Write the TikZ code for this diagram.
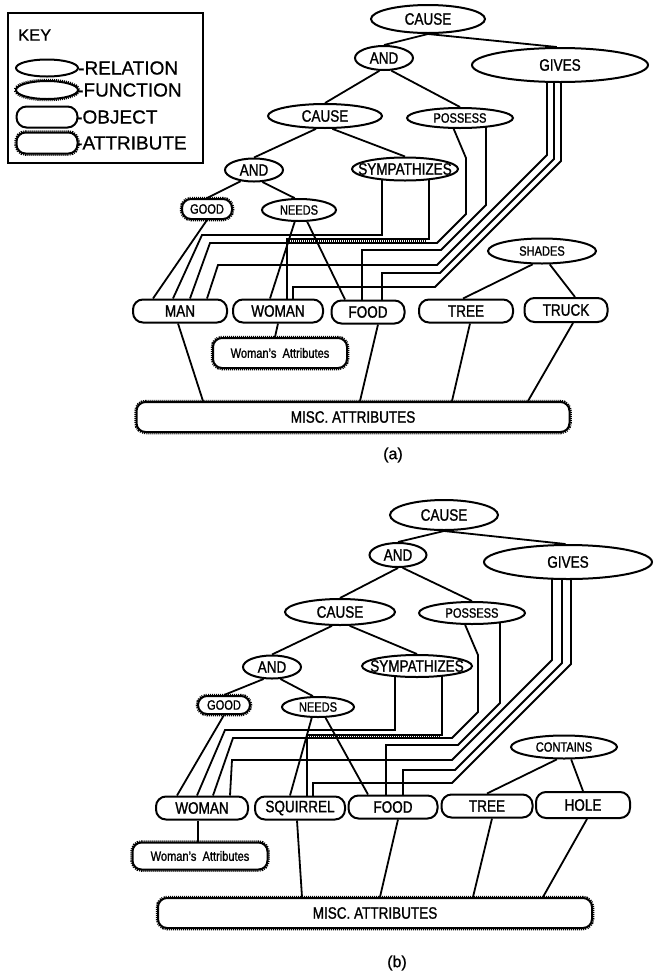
\documentclass[tikz,border=0pt]{standalone}
\usepackage{fontspec}
\setmainfont{Liberation Sans}[FakeStretch=0.82,FakeBold=1.2]
\newfontfamily\keyfont{Liberation Sans}[FakeBold=0.8]
\usetikzlibrary{shapes.geometric}
\pgfdeclarelayer{bg}
\pgfsetlayers{bg,main}
\newcommand\nsz{\fontsize{16.5}{18}\selectfont}
\newcommand\ssz{\fontsize{13.5}{15}\selectfont}
\newcommand\ztxt[1]{\makebox[0pt]{#1}}
\begin{document}
\begin{tikzpicture}[x=1pt,y=-1pt,line width=2pt,
  rel/.style 2 args={ellipse,draw,line width=2pt,fill=white,inner sep=0pt,minimum width=#1,minimum height=#2,font=\nsz},
  func/.style 2 args={ellipse,draw,fill=white,inner sep=0pt,minimum width=#1,minimum height=#2,line width=2pt,preaction={draw,line width=4.5pt,dash pattern=on 1pt off 1pt}},
  obj/.style 2 args={rectangle,rounded corners=10pt,draw,line width=2pt,fill=white,inner sep=0pt,minimum width=#1,minimum height=#2,font=\nsz},
  attr/.style 2 args={rectangle,rounded corners=9pt,draw,fill=white,inner sep=0pt,minimum width=#1,minimum height=#2,font=\nsz,line width=2pt,preaction={draw,line width=4.5pt,dash pattern=on 1pt off 1pt}},
  small/.style={font=\ssz},
  keytext/.style={anchor=west,inner sep=0pt,font=\keyfont\fontsize{19}{20}\selectfont},
  conn/.style={line width=1.8pt},
  hatch/.style={line width=3pt,dash pattern=on 1pt off 1pt},
  caption/.style={inner sep=0pt,font=\keyfont\fontsize{16}{17}\selectfont}
]
\useasboundingbox (0,0) rectangle (667,978);
\begin{pgfonlayer}{bg}
\fill[white] (0,0) rectangle (667,978);
\end{pgfonlayer}

% ---------------- KEY
\draw[line width=1.8pt] (8,13) rectangle (203,163);
\node[anchor=west,inner sep=0pt,font=\keyfont\fontsize{16.5}{17}\selectfont] (key) at (18,35) {KEY};
\node[rel={62}{17}] (krel) at (47,68) {};
\node[func={62}{18}] (kfunc) at (47,90) {};
\node[obj={61}{21}] (kobj) at (47,117) {};
\node[attr={61}{21}] (kattr) at (47,143) {};
\node[keytext] (trel) at (78,68) {-RELATION};
\node[keytext] (tfunc) at (77,90) {-FUNCTION};
\node[keytext] (tobj) at (76,117) {-OBJECT};
\node[keytext] (tattr) at (76,143) {-ATTRIBUTE};

% ---------------- (a)
\node[rel={114}{28}] (acause) at (428,19) {\ztxt{CAUSE}};
\node[rel={58}{24}] (aand) at (384,58) {\ztxt{AND}};
\node[rel={176}{34}] (agives) at (560,65) {\ztxt{GIVES}};
\node[rel={114}{24}] (acause2) at (325,116) {\ztxt{CAUSE}};
\node[rel={106}{20},small] (apossess) at (460,118) {\ztxt{POSSESS}};
\node[rel={58}{23}] (aand2) at (254,170) {\ztxt{AND}};
\node[rel={106}{23}] (asymp) at (405,169) {\ztxt{SYMPATHIZES}};
\node[attr={50}{20},small] (agood) at (207,209) {\ztxt{GOOD}};
\node[rel={74}{22},small] (aneeds) at (299,210) {\ztxt{NEEDS}};
\node[rel={108}{25},small] (ashades) at (542,251) {\ztxt{SHADES}};
\node[obj={94}{23}] (aman) at (180,311) {\ztxt{MAN}};
\node[obj={90}{23}] (awoman) at (278,311) {\ztxt{WOMAN}};
\node[obj={73}{23}] (afood) at (368,312) {\ztxt{FOOD}};
\node[obj={94}{23}] (atree) at (466,311) {\ztxt{TREE}};
\node[obj={83}{24}] (atruck) at (566,310) {\ztxt{TRUCK}};
\node[attr={134}{30},small] (awattr) at (280,353) {\ztxt{Woman's\ \ Attributes}};
\node[attr={433}{30}] (amisc) at (353,417) {\ztxt{MISC. ATTRIBUTES}};
\node[caption] (capa) at (393,455) {(a)};

% ---------------- (b)
\node[rel={108}{30}] (bcause) at (444,515) {\ztxt{CAUSE}};
\node[rel={57}{24}] (band) at (398,555) {\ztxt{AND}};
\node[rel={168}{34}] (bgives) at (568,562) {\ztxt{GIVES}};
\node[rel={110}{26}] (bcause2) at (340,612) {\ztxt{CAUSE}};
\node[rel={106}{22},small] (bpossess) at (472,613) {\ztxt{POSSESS}};
\node[rel={58}{23}] (band2) at (272,667) {\ztxt{AND}};
\node[rel={110}{22}] (bsymp) at (417,666) {\ztxt{SYMPATHIZES}};
\node[attr={52}{18},small] (bgood) at (224,705) {\ztxt{GOOD}};
\node[rel={72}{20},small] (bneeds) at (318,707) {\ztxt{NEEDS}};
\node[rel={106}{23},small] (bcontains) at (564,747) {\ztxt{CONTAINS}};
\node[obj={92}{23}] (bwoman) at (202,808) {\ztxt{WOMAN}};
\node[obj={90}{23}] (bsquirrel) at (300,808) {\ztxt{SQUIRREL}};
\node[obj={89}{23}] (bfood) at (393,807) {\ztxt{FOOD}};
\node[obj={91}{23}] (btree) at (487,806) {\ztxt{TREE}};
\node[obj={94}{26}] (bhole) at (583,805) {\ztxt{HOLE}};
\node[attr={135}{27},small] (bwattr) at (200,856) {\ztxt{Woman's\ \ Attributes}};
\node[attr={434}{30}] (bmisc) at (375,913) {\ztxt{MISC. ATTRIBUTES}};
\node[caption] (capb) at (397,963) {(b)};

\begin{pgfonlayer}{bg}
% (a) tree
\draw[conn] (acause.south) -- (aand.north);
\draw[conn] (acause.south) -- (agives.100);
\draw[conn] (aand.250) -- (acause2.north);
\draw[conn] (aand.300) -- (apossess.north);
\draw[conn] (acause2.235) -- (aand2.north);
\draw[conn] (acause2.300) -- (asymp.north);
\draw[conn] (aand2.220) -- (agood.north);
\draw[conn] (aand2.305) -- (aneeds.110);
\draw[conn] (agood.south) -- (153,0 |- aman.north);
\draw[conn] (aneeds.250) -- (270,0 |- awoman.north);
\draw[conn] (aneeds.305) -- (345,0 |- afood.north);
\draw[conn] (382,0 |- asymp.center) -- (382,235) -- (202,235) -- (173,0 |- aman.north);
\draw[conn] (429,0 |- asymp.center) -- (429,239) -- (287,239) -- (287,0 |- awoman.center);
\draw[hatch] (289,240.5) -- (427,240.5);
\draw[conn] (apossess.240) -- (466,158) -- (466,214) -- (437,243) -- (210,243) -- (190,0 |- aman.north);
\draw[conn] (486,0 |- apossess.center) -- (486,205) -- (441,250) -- (362,250) -- (362,0 |- afood.center);
\draw[conn] (547,0 |- agives.center) -- (547,155) -- (437,265) -- (218,265) -- (207,0 |- aman.north);
\draw[conn] (554,0 |- agives.center) -- (554,159) -- (440,273) -- (382,273) -- (382,0 |- afood.center);
\draw[conn] (561,0 |- agives.center) -- (561,161) -- (435,287) -- (293,287) -- (293,0 |- awoman.center);
\draw[conn] (ashades.235) -- (463,0 |- atree.north);
\draw[conn] (ashades.300) -- (575,0 |- atruck.north);
\draw[conn] (178,0 |- aman.south) -- (203,0 |- amisc.north);
\draw[conn] (278,0 |- awoman.south) -- (275,0 |- awattr.north);
\draw[conn] (378,0 |- afood.south) -- (360,0 |- amisc.north);
\draw[conn] (470,0 |- atree.south) -- (452,0 |- amisc.north);
\draw[conn] (573,0 |- atruck.south) -- (528,0 |- amisc.north);

% (b) tree
\draw[conn] (bcause.south) -- (band.north);
\draw[conn] (bcause.south) -- (bgives.98);
\draw[conn] (band.south) -- (bcause2.north);
\draw[conn] (band.290) -- (bpossess.north);
\draw[conn] (bcause2.240) -- (band2.north);
\draw[conn] (bcause2.305) -- (bsymp.north);
\draw[conn] (band2.235) -- (bgood.north);
\draw[conn] (band2.305) -- (bneeds.115);
\draw[conn] (bgood.south) -- (177,0 |- bwoman.north);
\draw[conn] (bneeds.240) -- (290,0 |- bsquirrel.north);
\draw[conn] (bneeds.305) -- (368,0 |- bfood.north);
\draw[conn] (395,0 |- bsymp.center) -- (395,730) -- (225,730) -- (197,0 |- bwoman.north);
\draw[conn] (442,0 |- bsymp.center) -- (442,735) -- (307,735) -- (307,0 |- bsquirrel.center);
\draw[hatch] (309,736.5) -- (440,736.5);
\draw[conn] (bpossess.240) -- (478,655) -- (478,712) -- (452,738) -- (233,738) -- (213,0 |- bwoman.north);
\draw[conn] (500,0 |- bpossess.center) -- (500,703) -- (458,745) -- (386,745) -- (386,0 |- bfood.center);
\draw[conn] (552,0 |- bgives.center) -- (552,660) -- (452,760) -- (232,760) -- (230,0 |- bwoman.north);
\draw[conn] (562,0 |- bgives.center) -- (562,663) -- (455,770) -- (403,770) -- (403,0 |- bfood.center);
\draw[conn] (571,0 |- bgives.center) -- (571,664) -- (452,783) -- (313,783) -- (313,0 |- bsquirrel.center);
\draw[conn] (bcontains.240) -- (487,0 |- btree.north);
\draw[conn] (bcontains.300) -- (583,0 |- bhole.north);
\draw[conn] (198,0 |- bwoman.south) -- (198,0 |- bwattr.north);
\draw[conn] (297,0 |- bsquirrel.south) -- (302,0 |- bmisc.north);
\draw[conn] (398,0 |- bfood.south) -- (380,0 |- bmisc.north);
\draw[conn] (492,0 |- btree.south) -- (473,0 |- bmisc.north);
\draw[conn] (587,0 |- bhole.south) -- (543,0 |- bmisc.north);
\end{pgfonlayer}
\end{tikzpicture}
\end{document}
